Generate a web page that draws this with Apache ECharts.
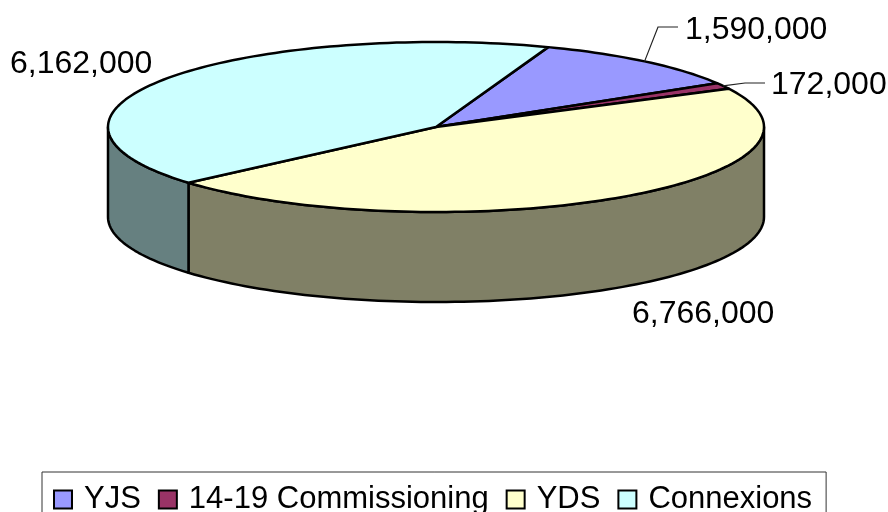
<!DOCTYPE html>
<html>
<head>
<meta charset="utf-8">
<script src="https://cdn.jsdelivr.net/npm/echarts@6/dist/echarts.min.js"></script>
<style>
html, body { margin: 0; padding: 0; background: #fff; }
#chart { width: 888px; height: 512px; }
</style>
</head>
<body>
<div id="chart"></div>
<script>
var categories = ["YJS", "14-19 Commissioning", "YDS", "Connexions"];
var values = [1590000, 172000, 6766000, 6162000];
var topColors = ["#9999FF", "#993366", "#FFFFCC", "#CCFFFF"];
var sideColors = ["#4D4D80", "#4D1A33", "#808066", "#668080"];

// pie geometry, first slice starts this many degrees clockwise from 12 o'clock
var cx = 436, cy = 127, rx = 328, ry = 85, depth = 90, startAngle = 20;
var labelFont = "32px 'Liberation Sans', Arial, sans-serif";

// where the value text sits; leader is the elbow + end of the line, if any
var labelLayout = [
    { x: 685, y: 30, leader: [[658, 27], [678, 27]] },
    { x: 771, y: 85, leader: [[745, 83], [765, 83]] },
    { x: 632, y: 314 },
    { x: 10, y: 64 }
];

var total = values.reduce(function (a, b) { return a + b; }, 0);

function pt(deg, dy) {
    var r = deg * Math.PI / 180;
    return [cx + rx * Math.sin(r), cy - ry * Math.cos(r) + (dy || 0)];
}

function arc(from, to, dy) {
    var pts = [];
    var n = Math.max(2, Math.ceil(Math.abs(to - from) / 1.5));
    for (var i = 0; i <= n; i++) {
        pts.push(pt(from + (to - from) * i / n, dy));
    }
    return pts;
}

function sliceAngles(idx) {
    var sum = 0;
    for (var i = 0; i < idx; i++) sum += values[i];
    return [
        startAngle + sum / total * 360,
        startAngle + (sum + values[idx]) / total * 360
    ];
}

function renderSlice(params) {
    var idx = params.seriesIndex;
    var a = sliceAngles(idx);
    var kids = [];
    var lineStyle = { stroke: "#000", lineWidth: 2.5, lineJoin: "round" };

    // the wall only shows on the front half of the ellipse
    var from = Math.max(a[0], 90), to = Math.min(a[1], 270);
    if (to > from) {
        kids.push({
            type: "polygon",
            z2: 1,
            shape: { points: arc(from, to, 0).concat(arc(to, from, depth)) },
            style: Object.assign({ fill: sideColors[idx] }, lineStyle)
        });
    }

    kids.push({
        type: "polygon",
        z2: 2,
        shape: { points: [[cx, cy]].concat(arc(a[0], a[1], 0)) },
        style: Object.assign({ fill: topColors[idx] }, lineStyle)
    });

    var lay = labelLayout[idx];
    if (lay.leader) {
        kids.push({
            type: "polyline",
            z2: 3,
            shape: { points: [pt((a[0] + a[1]) / 2)].concat(lay.leader) },
            style: { fill: null, stroke: "#222", lineWidth: 1.2 }
        });
    }
    kids.push({
        type: "text",
        z2: 4,
        x: lay.x,
        y: lay.y,
        style: {
            text: values[idx].toLocaleString("en-US"),
            font: labelFont,
            fill: "#000",
            align: "left",
            verticalAlign: "middle"
        }
    });

    return { type: "group", children: kids };
}

var chart = echarts.init(document.getElementById("chart"), null, { renderer: "canvas" });

chart.setOption({
    animation: false,
    backgroundColor: "#fff",
    legend: {
        left: 42,
        top: 472,
        orient: "horizontal",
        padding: [12, 14, 40, 11],
        borderColor: "#333",
        borderWidth: 1,
        itemGap: 17,
        itemWidth: 18,
        itemHeight: 18,
        icon: "rect",
        itemStyle: { borderColor: "#000", borderWidth: 2 },
        textStyle: {
            fontFamily: "'Liberation Sans', Arial, sans-serif",
            fontSize: 31,
            color: "#000",
            padding: [0, 0, 0, 7]
        },
        data: categories
    },
    series: categories.map(function (name, i) {
        return {
            type: "custom",
            name: name,
            coordinateSystem: "none",
            silent: true,
            itemStyle: { color: topColors[i] },
            renderItem: renderSlice,
            data: [values[i]]
        };
    })
});
</script>
</body>
</html>
